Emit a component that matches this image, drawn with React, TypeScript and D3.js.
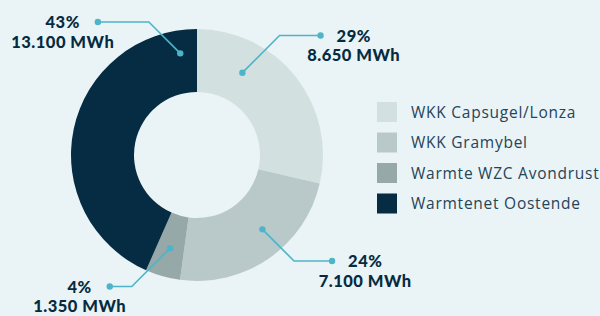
import { useRef, useEffect } from 'react';
import * as d3 from 'd3';

// heat sources, clockwise from 12 o'clock
const sources = ['WKK Capsugel/Lonza', 'WKK Gramybel', 'Warmte WZC Avondrust', 'Warmtenet Oostende'];
const mwh = [8650, 7100, 1350, 13100];
const percentLabels = ['29%', '24%', '4%', '43%'];
const mwhLabels = ['8.650 MWh', '7.100 MWh', '1.350 MWh', '13.100 MWh'];
const colors = ['#d3e0e0', '#b9c9c9', '#96a8a8', '#052c43'];

// callout placement: where in the slice the dot sits, and where the leader line turns
const calloutAt = [
  { t: 0.28, r: 94, elbowY: 35.5, len: 41 },
  { t: 0.42, r: 99, elbowY: 261, len: 38 },
  { t: 0.52, r: 97, elbowY: 286.5, len: 22 },
  { t: 0.94, r: 103, elbowY: 22, len: 51 },
];

const W = 600;
const H = 316;
const BG = '#eaf3f5';
const LINE = '#4db5c9';
const INK = '#062b40';

export default function App() {
  const svgRef = useRef<SVGSVGElement>(null);

  useEffect(() => {
    if (!svgRef.current) return;
    const svg = d3.select(svgRef.current);
    svg.selectAll('*').remove();

    svg.append('rect').attr('width', W).attr('height', H).attr('fill', BG);

    const cx = 197;
    const cy = 155;
    const outerR = 126;
    const innerR = 63;

    const pie = d3.pie<number>().sort(null).value((d) => d);
    const arcs = pie(mwh);
    const arc = d3.arc<d3.PieArcDatum<number>>().innerRadius(innerR).outerRadius(outerR);

    const g = svg.append('g').attr('transform', `translate(${cx},${cy})`);
    g.selectAll('path.slice')
      .data(arcs)
      .enter()
      .append('path')
      .attr('class', 'slice')
      .attr('d', arc)
      .attr('fill', (_, i) => colors[i]);

    const boldText = (sel: d3.Selection<SVGTextElement, unknown, null, undefined>) =>
      sel
        .attr('fill', INK)
        .attr('text-anchor', 'middle')
        .style('font-family', 'Lato')
        .style('font-weight', '900')
        .style('font-size', '16.5px')
        .style('letter-spacing', '0.5px');

    // callouts
    arcs.forEach((a, i) => {
      const c = calloutAt[i];
      const ang = a.startAngle + (a.endAngle - a.startAngle) * c.t;
      const px = cx + Math.sin(ang) * c.r;
      const py = cy - Math.cos(ang) * c.r;
      const side = Math.sin(ang) >= 0 ? 1 : -1;
      const ex = px + side * Math.abs(c.elbowY - py);
      const endX = ex + side * c.len;
      const endY = c.elbowY;

      svg.append('polyline')
        .attr('points', `${px},${py} ${ex},${endY} ${endX},${endY}`)
        .attr('fill', 'none')
        .attr('stroke', LINE)
        .attr('stroke-width', 1.6);
      svg.append('circle').attr('cx', px).attr('cy', py).attr('r', 3.2).attr('fill', LINE);
      svg.append('circle').attr('cx', endX).attr('cy', endY).attr('r', 3.2).attr('fill', LINE);

      const first = svg.append('text').attr('y', endY + 6).call(boldText).text(percentLabels[i]);
      const w = (first.node() as SVGTextElement).getComputedTextLength();
      const gap = side > 0 ? 16 : 18;
      const center = endX + side * (gap + w / 2);
      first.attr('x', center);
      svg.append('text').attr('x', center).attr('y', endY + 25.5).call(boldText).text(mwhLabels[i]);
    });

    // legend
    const legend = svg.append('g').attr('transform', 'translate(377,102)');
    const row = d3.scaleBand<string>().domain(sources).range([0, 122]);
    const item = legend.selectAll('g').data(sources).enter().append('g')
      .attr('transform', (d) => `translate(0,${row(d)})`);
    item.append('rect').attr('width', 20).attr('height', 20).attr('fill', (_, i) => colors[i]);
    item.append('text')
      .attr('x', 34)
      .attr('y', 15.5)
      .attr('fill', '#24445a')
      .style('font-family', 'Open Sans')
      .style('font-size', '15.5px')
      .style('letter-spacing', '0.75px')
      .text((d) => d);
  }, []);

  return (
    <div style={{ position: 'fixed', left: 0, top: 0 }}>
      <svg ref={svgRef} width={W} height={H} style={{ display: 'block' }} />
    </div>
  );
}
